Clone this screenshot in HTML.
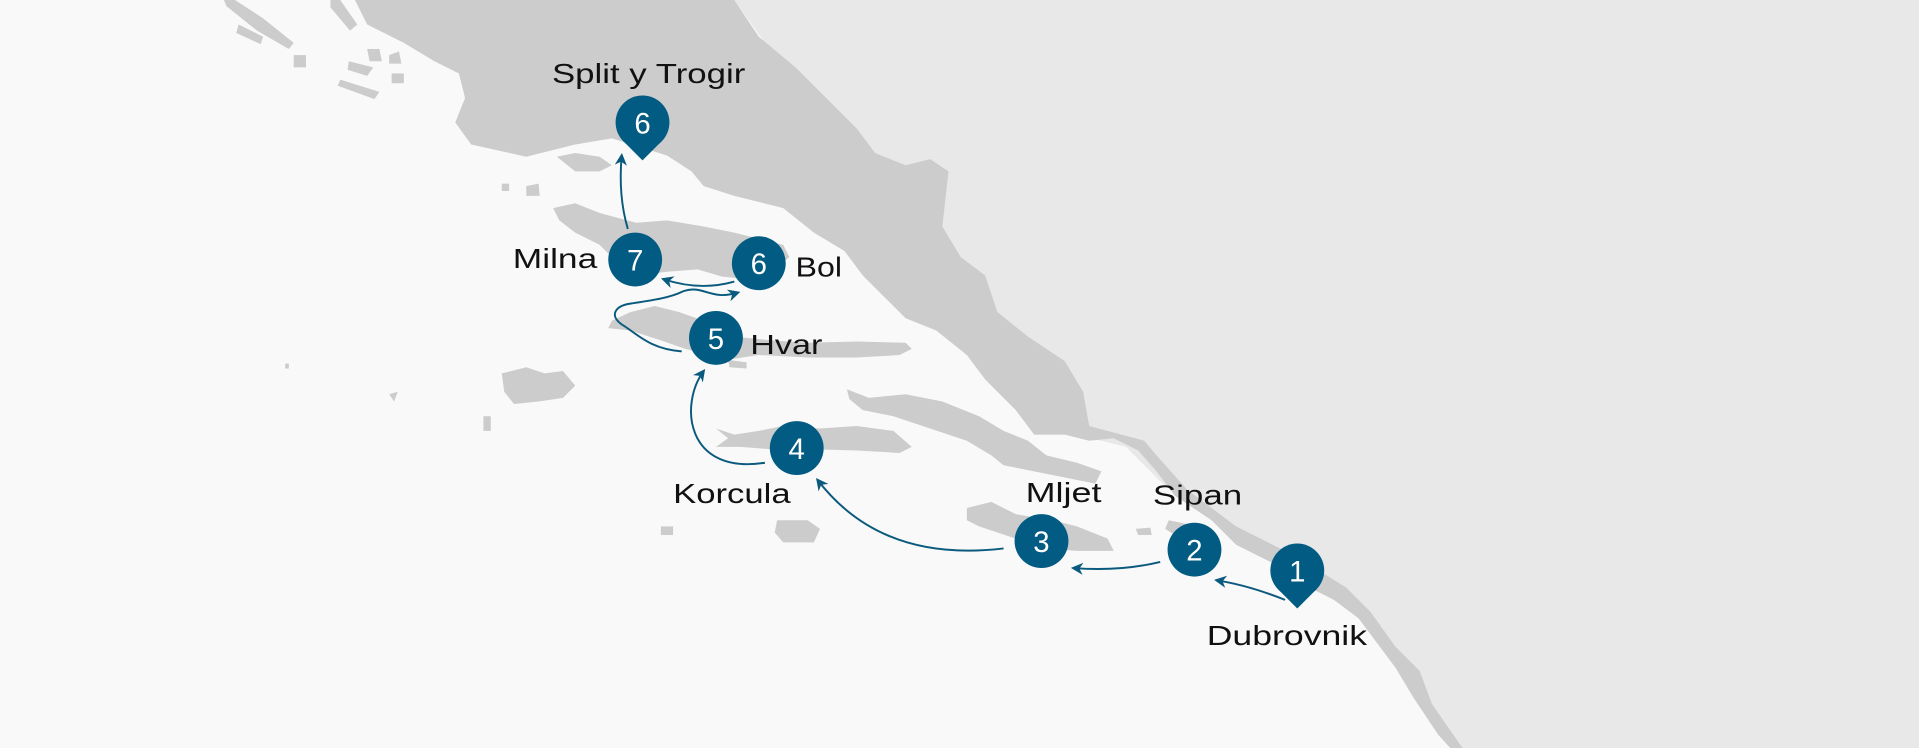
<!DOCTYPE html>
<html><head><meta charset="utf-8"><style>
html,body{margin:0;padding:0;background:#f9f9f9;}
svg{display:block}
text{font-family:"Liberation Sans",sans-serif;}
</style></head><body>
<svg width="1919" height="748" viewBox="0 0 1568 611" preserveAspectRatio="none" xmlns="http://www.w3.org/2000/svg">
<defs>
<marker id="ah" viewBox="0 0 10 10" refX="8" refY="5" markerWidth="10" markerHeight="10" orient="auto" markerUnits="userSpaceOnUse">
<path d="M0,0 L10,5 L0,10 L3,5 z" fill="#0a5a7e"/>
</marker>
</defs>
<rect width="1568" height="611" fill="#f9f9f9"/>
<polygon fill="#e8e8e8" points="600,0 1568,0 1568,611 1190,611 1160,560 1130,520 1090,490 1040,460 990,425 950,395 920,365 880,355 850,350"/>
<polygon fill="#cccccc" points="290,0 300,20 330,35 355,50 375,60 380,80 372,100 385,118 430,128 470,118 500,113 545,127 565,140 575,152 600,160 640,170 665,190 690,205 705,225 720,240 740,260 765,270 790,290 805,310 830,335 845,355 870,355 890,360 910,358 930,368 945,385 960,405 990,425 1010,445 1040,460 1060,475 1090,490 1110,505 1125,525 1140,545 1155,570 1175,600 1185,611 1195,611 1170,575 1160,548 1140,528 1120,500 1100,480 1060,455 1010,430 970,400 945,372 935,360 890,348 885,320 870,295 840,275 815,255 805,225 785,210 770,185 775,140 760,130 740,135 715,125 700,105 680,85 650,55 620,30 600,0"/>
<g fill="#cccccc">
<polygon points="452,170 470,166 490,174 520,182 545,180 575,185 600,190 620,195 640,200 645,210 630,222 610,228 590,226 570,220 545,222 520,225 505,215 490,200 470,190 457,180"/>
<polygon points="500,262 515,255 535,250 555,255 575,262 600,275 630,278 660,280 700,279 740,280 745,285 735,290 700,292 660,292 620,290 600,293 580,290 560,285 540,278 515,270 497,268"/>
<polygon points="595,294 610,296 610,301 596,300"/>
<polygon points="585,350 600,355 620,352 640,348 670,350 700,348 730,352 745,365 735,370 700,368 665,367 630,367 605,365 585,365 595,358"/>
<polygon points="692,318 710,325 740,322 770,328 800,340 820,352 840,360 855,372 880,378 900,385 895,395 870,390 845,385 820,380 810,372 790,360 760,350 730,340 705,335 694,326"/>
<polygon points="790,415 810,410 830,420 860,425 880,430 905,440 910,450 880,450 855,448 830,440 800,430 790,425"/>
<polygon points="955,425 970,428 985,435 985,445 965,440 952,432"/>
<polygon points="928,432 940,431 941,437 930,437"/>
<polygon points="410,305 430,300 445,305 460,303 470,315 460,325 440,328 420,330 412,320"/>
<polygon points="455,128 470,125 490,128 500,135 490,140 470,140"/>
<polygon points="430,152 440,150 441,160 430,160"/>
<polygon points="410,150 416,150 416,156 410,156"/>
<polygon points="183,0 192,0 215,15 240,35 236,40 210,25 185,5"/>
<polygon points="270,0 278,0 292,20 286,25 270,6"/>
<polygon points="195,20 215,30 213,36 193,27"/>
<polygon points="240,45 250,45 250,55 240,55"/>
<polygon points="285,50 305,55 300,62 284,57"/>
<polygon points="300,40 310,40 312,50 302,50"/>
<polygon points="318,45 326,42 328,52 318,52"/>
<polygon points="278,65 310,75 306,81 276,70"/>
<polygon points="320,60 330,60 330,68 320,68"/>
<polygon points="635,425 660,425 670,432 665,443 640,443 633,435"/>
<polygon points="540,430 550,430 550,437 540,437"/>
<polygon points="395,340 401,340 401,352 395,352"/>
<polygon points="318,322 325,320 322,328"/>
<polygon points="233,297 236,297 236,301 233,301"/>
</g>
<g fill="none" stroke="#0a5a7e" stroke-width="1.6" marker-end="url(#ah)">
<path d="M1050,490 Q1020,478 994,474"/>
<path d="M948,459 Q915,467 877,464"/>
<path d="M820,448 Q720,460 668,392"/>
<path d="M625,378 C560,388 555,330 575,303"/>
<path d="M557,287 C530,285 520,272 508,265 C498,258 502,250 515,248 C535,245 548,243 558,238 C575,232 580,246 603,239"/>
<path d="M600,230 Q572,238 542,228"/>
<path d="M513,187 Q505,160 508,127"/>
</g>
<g fill="#025b82">
<circle cx="525" cy="100" r="22"/><polygon points="509,115 541,115 525,131"/>
<circle cx="519" cy="212" r="22"/>
<circle cx="620" cy="215" r="22"/>
<circle cx="585" cy="276" r="22"/>
<circle cx="651" cy="366" r="22"/>
<circle cx="851" cy="442" r="22"/>
<circle cx="976" cy="449" r="22"/>
<circle cx="1060" cy="466" r="22"/><polygon points="1044,481 1076,481 1060,497"/>
</g>
<g fill="#fff" font-size="24" text-anchor="middle">
<text x="525" y="109">6</text>
<text x="519" y="221">7</text>
<text x="620" y="224">6</text>
<text x="585" y="285">5</text>
<text x="651" y="375">4</text>
<text x="851" y="451">3</text>
<text x="976" y="458">2</text>
<text x="1060" y="475">1</text>
</g>
<g fill="#111" font-size="23">
<text x="451" y="68" textLength="158" lengthAdjust="spacingAndGlyphs">Split y Trogir</text>
<text x="419" y="219" textLength="69" lengthAdjust="spacingAndGlyphs">Milna</text>
<text x="650" y="226" textLength="38" lengthAdjust="spacingAndGlyphs">Bol</text>
<text x="613" y="289" textLength="59" lengthAdjust="spacingAndGlyphs">Hvar</text>
<text x="550" y="411" textLength="96" lengthAdjust="spacingAndGlyphs">Korcula</text>
<text x="838" y="410" textLength="62" lengthAdjust="spacingAndGlyphs">Mljet</text>
<text x="942" y="412" textLength="73" lengthAdjust="spacingAndGlyphs">Sipan</text>
<text x="986" y="527" textLength="131" lengthAdjust="spacingAndGlyphs">Dubrovnik</text>
</g>
</svg>
</body></html>
